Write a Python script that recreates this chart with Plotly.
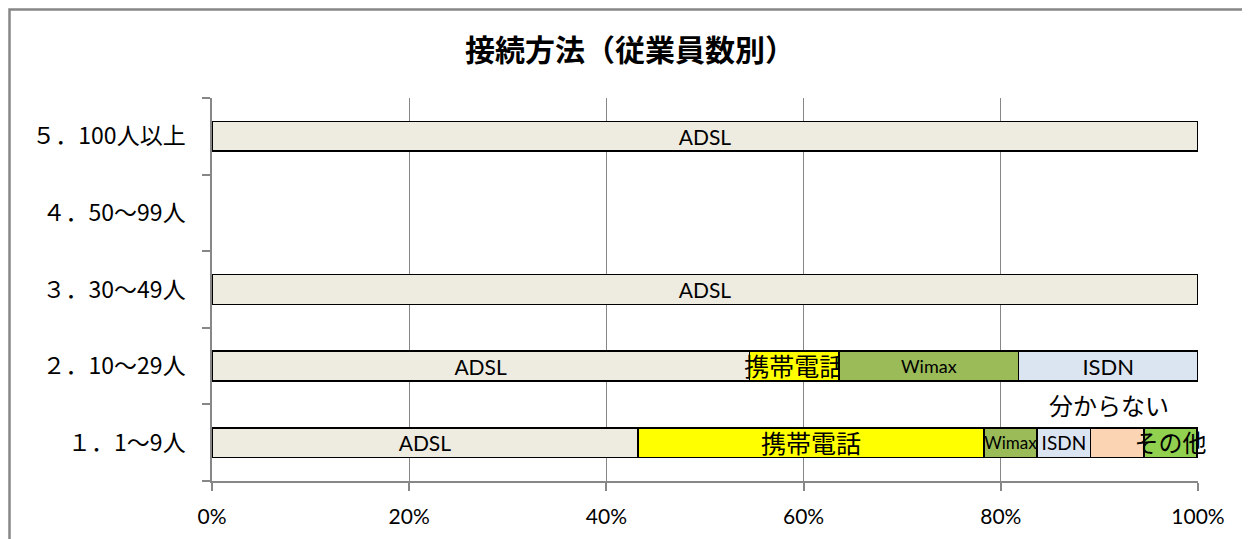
import plotly.graph_objects as go

categories = ["１．1～9人", "２．10～29人", "３．30～49人", "４．50～99人", "５．100人以上"]
series_names = ["ADSL", "携帯電話", "Wimax", "ISDN", "分からない", "その他"]
adsl = [43.2, 54.5, 100.0, None, 100.0]
keitai = [35.1, 9.1, None, None, None]
wimax = [5.4, 18.2, None, None, None]
isdn = [5.4, 18.2, None, None, None]
wakaranai = [5.4, None, None, None, None]
sonota = [5.4, None, None, None, None]
x_ticks = [0, 20, 40, 60, 80, 100]
x_tick_labels = ["0%", "20%", "40%", "60%", "80%", "100%"]

values = [adsl, keitai, wimax, isdn, wakaranai, sonota]
colors = ["#EEECE1", "#FFFF00", "#9BBB59", "#DBE5F1", "#FBD4B4", "#92D050"]
label_sizes = [
    [21, 21, 21, 21, 21],
    [25, 25, 25, 25, 25],
    [17, 18, 18, 18, 18],
    [19, 22, 22, 22, 22],
    [22, 22, 22, 22, 22],
    [24, 24, 24, 24, 24],
]

FONT = "Lato, 'Noto Sans CJK JP', sans-serif"

# page body has an 8px margin, so the figure is sized/offset to compensate
W, H = 1242, 531
L, T = 204, 90
PW, PH = 986, 383

fig = go.Figure()
for name, vals, col, sizes in zip(series_names, values, colors, label_sizes):
    txt = [("" if name == "分からない" else name) if v is not None else "" for v in vals]
    fig.add_trace(go.Bar(
        name=name, y=categories, x=vals, orientation="h",
        marker=dict(color=col, line=dict(color="#000000", width=1.6)),
        text=txt, textposition="inside", insidetextanchor="middle",
        textangle=0, constraintext="none", cliponaxis=False,
        textfont=dict(family=FONT, size=sizes, color="#000000"),
        hoverinfo="skip",
    ))

start = adsl[0] + keitai[0] + wimax[0] + isdn[0]
fig.add_annotation(
    x=start + wakaranai[0] / 2, y=categories[0], xref="x", yref="y",
    text="分からない", showarrow=False, yshift=37, xshift=-8,
    font=dict(family=FONT, size=24, color="#000000"),
)

fig.add_shape(type="rect", xref="paper", yref="paper",
              x0=(1.5 - L) / PW, x1=1.2, y0=-0.3, y1=1 + (T - 1.5) / PH,
              line=dict(color="#878787", width=2.5), fillcolor="rgba(0,0,0,0)", layer="below")

fig.update_layout(
    barmode="stack",
    bargap=0.61,
    width=W, height=H,
    margin=dict(l=L, r=W - L - PW, t=T, b=H - T - PH, pad=0),
    plot_bgcolor="#FFFFFF", paper_bgcolor="#FFFFFF",
    showlegend=False,
    font=dict(family=FONT, color="#000000"),
    title=dict(text="接続方法（従業員数別）", x=(630 - 8) / W, xanchor="center",
               y=1 - 42 / H, yanchor="middle",
               font=dict(family="'Noto Sans CJK JP', sans-serif", size=30, weight="bold", color="#000000")),
    xaxis=dict(range=[0, 100], tickvals=x_ticks, ticktext=x_tick_labels,
               showgrid=True, gridcolor="#878787", gridwidth=1.3,
               showline=True, linecolor="#878787", linewidth=1.5,
               ticks="outside", ticklen=8, tickcolor="#878787", tickwidth=1.5,
               ticklabelstandoff=8,
               tickfont=dict(family=FONT, size=21, color="#000000"),
               zeroline=False, fixedrange=True),
    yaxis=dict(categoryorder="array", categoryarray=categories,
               showgrid=False, showline=True, linecolor="#878787", linewidth=1.5,
               ticks="outside", ticklen=8, tickcolor="#878787", tickwidth=1.5,
               tickson="boundaries", ticklabelstandoff=20,
               tickfont=dict(family="'Noto Sans CJK JP', sans-serif", size=23, color="#000000"),
               fixedrange=True),
)

fig.write_html("out.html")
